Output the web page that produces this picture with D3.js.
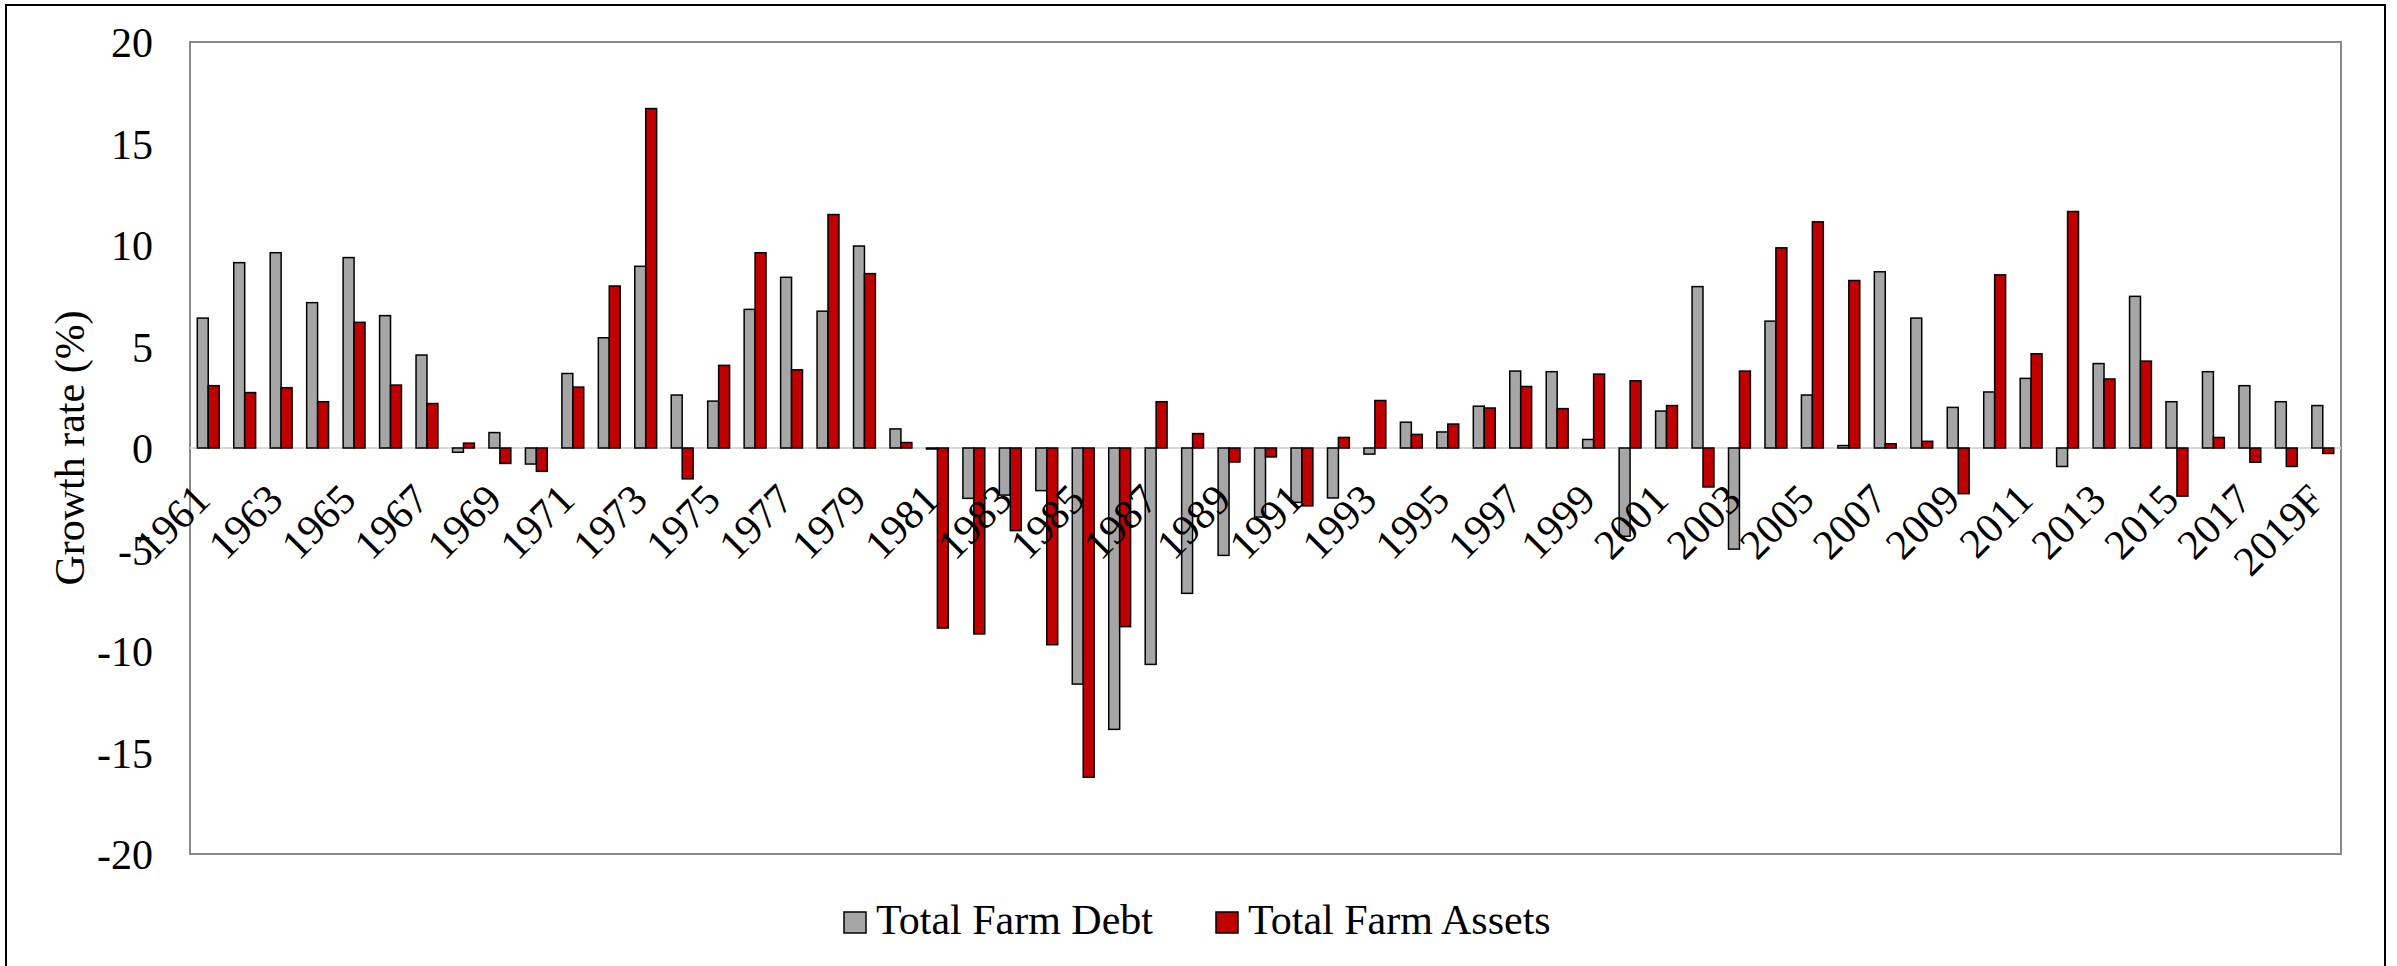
<!DOCTYPE html>
<html>
<head>
<meta charset="utf-8">
<script src="https://cdn.jsdelivr.net/npm/d3@7"></script>
<style>
  body { margin: 0; background: #fff; }
  svg { display: block; font-family: "Liberation Serif", "Times New Roman", serif; }
</style>
</head>
<body>
<svg width="2397" height="966"></svg>
<script>
var years = ['1961', '1962', '1963', '1964', '1965', '1966', '1967', '1968', '1969', '1970',
    '1971', '1972', '1973', '1974', '1975', '1976', '1977', '1978', '1979', '1980',
    '1981', '1982', '1983', '1984', '1985', '1986', '1987', '1988', '1989', '1990',
    '1991', '1992', '1993', '1994', '1995', '1996', '1997', '1998', '1999', '2000',
    '2001', '2002', '2003', '2004', '2005', '2006', '2007', '2008', '2009', '2010',
    '2011', '2012', '2013', '2014', '2015', '2016', '2017', '2018', '2019F'];

var debt = [6.40, 9.13, 9.62, 7.16, 9.38, 6.52, 4.58, -0.21, 0.76, -0.79,
    3.67, 5.43, 8.95, 2.61, 2.31, 6.83, 8.41, 6.74, 9.95, 0.94,
    -0.05, -2.48, -2.32, -2.10, -11.63, -13.86, -10.66, -7.16, -5.29, -3.40,
    -2.68, -2.46, -0.30, 1.27, 0.79, 2.06, 3.79, 3.76, 0.42, -4.35,
    1.82, 7.95, -4.98, 6.25, 2.61, 0.12, 8.68, 6.40, 2.00, 2.76,
    3.43, -0.91, 4.16, 7.47, 2.28, 3.76, 3.07, 2.28, 2.09];

var assets = [3.07, 2.73, 2.97, 2.28, 6.19, 3.10, 2.19, 0.24, -0.76, -1.15,
    3.00, 7.98, 16.72, -1.52, 4.07, 9.62, 3.85, 11.50, 8.59, 0.27,
    -8.87, -9.16, -4.07, -9.69, -16.22, -8.80, 2.28, 0.71, -0.69, -0.44,
    -2.85, 0.52, 2.34, 0.67, 1.18, 1.97, 3.03, 1.94, 3.64, 3.31,
    2.09, -1.92, 3.79, 9.86, 11.14, 8.25, 0.21, 0.33, -2.25, 8.53,
    4.64, 11.65, 3.40, 4.28, -2.37, 0.52, -0.70, -0.91, -0.27];

var seriesNames = ['Total Farm Debt', 'Total Farm Assets'];
var seriesColors = ['#a6a6a6', '#c00000'];
var yTicks = [-20, -15, -10, -5, 0, 5, 10, 15, 20];

var plot = { left: 190, right: 2341, top: 42, bottom: 854 };
var fontSize = 42;

var svg = d3.select('svg');

// outer frame
svg.append('rect')
    .attr('x', 6).attr('y', 5)
    .attr('width', 2379).attr('height', 975)
    .attr('fill', '#fff')
    .attr('stroke', '#000')
    .attr('stroke-width', 2);

var x = d3.scaleBand()
    .domain(years)
    .range([plot.left, plot.right])
    .paddingInner(0.4)
    .paddingOuter(0.2);

var xSub = d3.scaleBand()
    .domain([0, 1])
    .range([0, x.bandwidth()]);

var y = d3.scaleLinear()
    .domain([-20, 20])
    .range([plot.bottom, plot.top]);

// plot area border
svg.append('rect')
    .attr('x', plot.left).attr('y', plot.top)
    .attr('width', plot.right - plot.left)
    .attr('height', plot.bottom - plot.top)
    .attr('fill', 'none')
    .attr('stroke', '#898989')
    .attr('stroke-width', 2);

// zero line
svg.append('line')
    .attr('x1', plot.left).attr('x2', plot.right)
    .attr('y1', y(0)).attr('y2', y(0))
    .attr('stroke', '#d9d9d9')
    .attr('stroke-width', 2);

var rows = years.map(function (d, i) { return { year: d, vals: [debt[i], assets[i]] }; });

var groups = svg.append('g').selectAll('g')
    .data(rows)
    .enter().append('g')
    .attr('transform', function (d) { return 'translate(' + x(d.year) + ',0)'; });

groups.selectAll('rect')
    .data(function (d) { return d.vals; })
    .enter().append('rect')
    .attr('x', function (d, i) { return xSub(i); })
    .attr('y', function (d) { return y(Math.max(0, d)); })
    .attr('width', xSub.bandwidth())
    .attr('height', function (d) { return Math.abs(y(d) - y(0)); })
    .attr('fill', function (d, i) { return seriesColors[i]; })
    .attr('stroke', '#000')
    .attr('stroke-width', 1.5);

// y axis labels (plain hyphen for negatives, as in the original)
var yAxis = svg.append('g')
    .attr('transform', 'translate(' + 153 + ',0)')
    .call(d3.axisLeft(y).tickValues(yTicks).tickSize(0).tickPadding(0)
        .tickFormat(function (d) { return String(d); }));
yAxis.attr('font-family', null).attr('font-size', null);
yAxis.select('.domain').remove();
yAxis.selectAll('text')
    .attr('font-size', fontSize)
    .attr('fill', '#000')
    .attr('dy', '0.35em');

// x axis labels, every other year, rotated
var xAxis = svg.append('g')
    .attr('transform', 'translate(0,' + y(0) + ')')
    .call(d3.axisBottom(x).tickValues(years.filter(function (d, i) { return i % 2 === 0; })).tickSize(0));
xAxis.attr('font-family', null).attr('font-size', null);
xAxis.select('.domain').remove();
xAxis.selectAll('text')
    .attr('font-size', fontSize)
    .attr('fill', '#000')
    .attr('text-anchor', 'end')
    .attr('x', 0).attr('y', 0).attr('dy', null)
    .attr('transform', 'translate(4,54) rotate(-45)');

// y title
svg.append('text')
    .attr('transform', 'translate(84,' + y(0) + ') rotate(-90)')
    .attr('text-anchor', 'middle')
    .attr('font-size', fontSize)
    .text('Growth rate (%)');

// legend
var legendX = [844, 1216];
var legend = svg.append('g').selectAll('g')
    .data(seriesNames)
    .enter().append('g')
    .attr('transform', function (d, i) { return 'translate(' + legendX[i] + ',912)'; });
legend.append('rect')
    .attr('width', 22).attr('height', 21)
    .attr('fill', function (d, i) { return seriesColors[i]; })
    .attr('stroke', '#000')
    .attr('stroke-width', 1.5);
legend.append('text')
    .attr('x', 32).attr('y', 22)
    .attr('font-size', fontSize)
    .text(function (d) { return d; });
</script>
</body>
</html>
